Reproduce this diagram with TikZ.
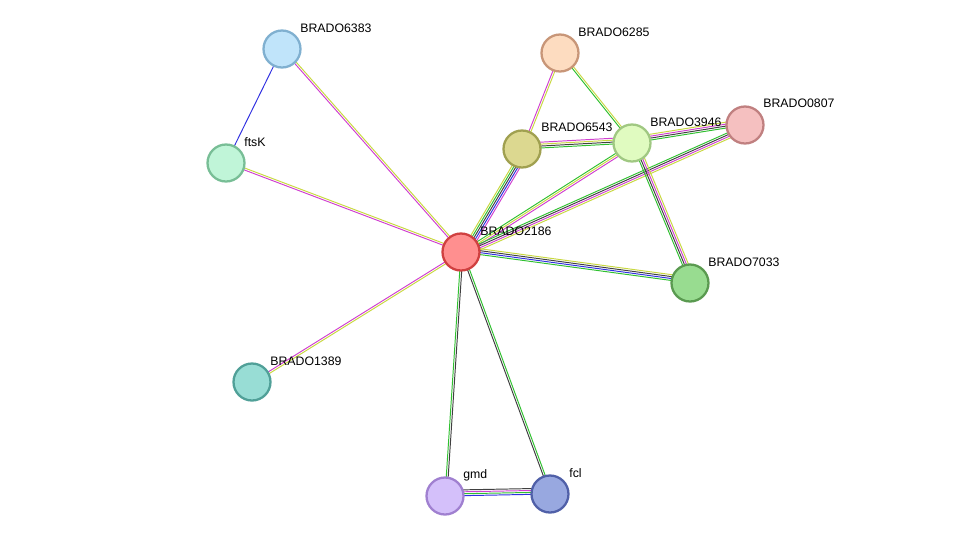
\documentclass[tikz,border=0pt]{standalone}
\usepackage{fontspec}
\setmainfont{Liberation Sans}
\usetikzlibrary{calc}
\definecolor{tm}{HTML}{C8D840}
\definecolor{ex}{HTML}{D040D0}
\definecolor{db}{HTML}{3030E0}
\definecolor{co}{HTML}{404040}
\definecolor{nb}{HTML}{30C030}
\tikzset{
  prot/.style={circle,minimum size=0.74cm,line width=1.3pt,inner sep=0pt},
  lab/.style={font=\fontsize{7}{8}\selectfont,anchor=west,inner sep=0pt},
}
% parallel coloured lines between two nodes
\newcommand\edge[3]{%
  \foreach \c [count=\i] in {#3} {%
    \pgfmathsetmacro\o{(\i-1)*1.1}
    \draw[\c,line width=0.55pt] ($(#1)!\o pt!90:(#2)$) -- ($(#2)!\o pt!-90:(#1)$);
  }}
\begin{document}
\begin{tikzpicture}[x=0.02cm,y=-0.02cm]
    \useasboundingbox (0,0) rectangle (975,542);
    \coordinate (p6383) at (282,49);
    \coordinate (pftsK) at (226,163);
    \coordinate (p6285) at (560,53);
    \coordinate (p6543) at (522,149);
    \coordinate (p3946) at (632,143);
    \coordinate (p0807) at (745,125);
    \coordinate (p2186) at (461,252);
    \coordinate (p7033) at (690,283);
    \coordinate (p1389) at (252,382);
    \coordinate (pgmd) at (445,496);
    \coordinate (pfcl) at (550,494);
    \edge{p6383}{pftsK}{db}
    \edge{p6383}{p2186}{ex,tm}
    \edge{pftsK}{p2186}{ex,tm}
    \edge{p6285}{p6543}{ex,tm}
    \edge{p6285}{p3946}{nb,tm}
    \edge{p6543}{p3946}{nb,co,tm,ex}
    \edge{p6543}{p2186}{tm,nb,co,db,ex}
    \edge{p3946}{p0807}{nb,co,ex,tm}
    \edge{p3946}{p2186}{nb,tm,ex}
    \edge{p0807}{p2186}{nb,co,ex,tm}
    \edge{p3946}{p7033}{nb,co,ex,tm}
    \edge{p2186}{p7033}{nb,db,co,tm}
    \edge{p2186}{p1389}{ex,tm}
    \edge{p2186}{pgmd}{nb,co}
    \edge{p2186}{pfcl}{co,nb}
    \edge{pgmd}{pfcl}{db,nb,ex,co}
    \node[prot,fill={rgb,255:red,192;green,228;blue,250},draw={rgb,255:red,128;green,176;blue,208}] (n6383) at (p6383) {};
    \node[prot,fill={rgb,255:red,192;green,245;blue,216},draw={rgb,255:red,120;green,190;blue,150}] (nftsK) at (pftsK) {};
    \node[prot,fill={rgb,255:red,253;green,220;blue,192},draw={rgb,255:red,200;green,150;blue,120}] (n6285) at (p6285) {};
    \node[prot,fill={rgb,255:red,220;green,216;blue,144},draw={rgb,255:red,160;green,160;blue,80}] (n6543) at (p6543) {};
    \node[prot,fill={rgb,255:red,224;green,251;blue,192},draw={rgb,255:red,160;green,200;blue,130}] (n3946) at (p3946) {};
    \node[prot,fill={rgb,255:red,245;green,192;blue,192},draw={rgb,255:red,192;green,128;blue,128}] (n0807) at (p0807) {};
    \node[prot,fill={rgb,255:red,255;green,143;blue,143},draw={rgb,255:red,208;green,64;blue,64}] (n2186) at (p2186) {};
    \node[prot,fill={rgb,255:red,152;green,220;blue,144},draw={rgb,255:red,90;green,154;blue,80}] (n7033) at (p7033) {};
    \node[prot,fill={rgb,255:red,152;green,221;blue,213},draw={rgb,255:red,80;green,160;blue,152}] (n1389) at (p1389) {};
    \node[prot,fill={rgb,255:red,212;green,192;blue,250},draw={rgb,255:red,160;green,128;blue,208}] (ngmd) at (pgmd) {};
    \node[prot,fill={rgb,255:red,152;green,168;blue,224},draw={rgb,255:red,80;green,96;blue,168}] (nfcl) at (pfcl) {};
    \node[lab] (l6383) at (300,28) {BRADO6383};
    \node[lab] (lftsK) at (244,142) {ftsK};
    \node[lab] (l6285) at (578,32) {BRADO6285};
    \node[lab] (l6543) at (541,127) {BRADO6543};
    \node[lab] (l3946) at (650,122) {BRADO3946};
    \node[lab] (l0807) at (763,103) {BRADO0807};
    \node[lab] (l2186) at (480,231) {BRADO2186};
    \node[lab] (l7033) at (708,262) {BRADO7033};
    \node[lab] (l1389) at (270,361) {BRADO1389};
    \node[lab] (lgmd) at (463,475) {gmd};
    \node[lab] (lfcl) at (569,473) {fcl};
\end{tikzpicture}
\end{document}
